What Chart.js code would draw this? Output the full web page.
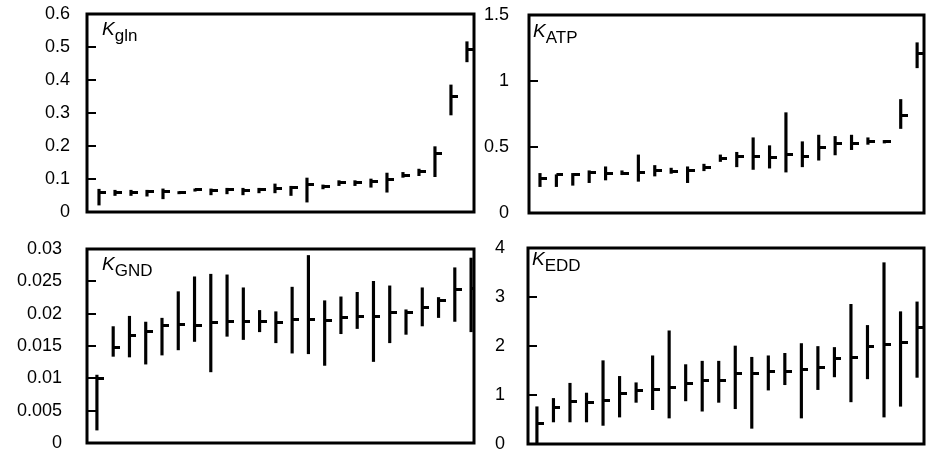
<!DOCTYPE html>
<html lang="en">
  <head>
    <meta charset="UTF-8" />
    <title>K estimates</title>
    <script src="https://cdn.jsdelivr.net/npm/chart.js@4.4.1/dist/chart.umd.min.js"></script>
    <style>
      body { margin: 0; overflow: hidden; background: #fff; }
      #wrap { position: relative; width: 927px; height: 454px; overflow: hidden; }
      canvas { position: absolute; }
      .lbl { position: absolute; font-family: "Liberation Sans", Arial, sans-serif; font-size: 19px; color: #000; white-space: nowrap; }
      .lbl span { position: relative; top: 6px; font-size: 17px; }
    </style>
  </head>
  <body>
    <div id="wrap">
      <canvas id="gln" width="480" height="227" style="left:0;top:0"></canvas>
      <canvas id="atp" width="450" height="227" style="left:480px;top:0"></canvas>
      <canvas id="gnd" width="480" height="227" style="left:0;top:227px"></canvas>
      <canvas id="edd" width="450" height="227" style="left:480px;top:227px"></canvas>
      <div class="lbl" style="left:102px;top:18px"><i>K</i><span>gln</span></div>
      <div class="lbl" style="left:533px;top:20px"><i>K</i><span>ATP</span></div>
      <div class="lbl" style="left:102px;top:253px"><i>K</i><span>GND</span></div>
      <div class="lbl" style="left:532px;top:248px"><i>K</i><span>EDD</span></div>
    </div>

    <script>
      // estimate, lower and upper end of each range, 24 samples per panel
      const glnEst  = [0.058,0.058,0.058,0.062,0.062,0.058,0.067,0.064,0.067,0.064,0.067,0.072,0.074,0.082,0.077,0.088,0.089,0.092,0.097,0.112,0.122,0.178,0.35,0.493];
      const glnLow  = [0.021,0.05,0.05,0.048,0.04,0.055,0.063,0.052,0.055,0.052,0.058,0.058,0.05,0.03,0.07,0.08,0.08,0.075,0.06,0.105,0.11,0.107,0.294,0.455];
      const glnHigh = [0.069,0.066,0.066,0.066,0.07,0.062,0.07,0.07,0.072,0.072,0.072,0.085,0.078,0.103,0.082,0.095,0.095,0.10,0.118,0.12,0.13,0.198,0.385,0.516];
      const glnTicks = [0, 0.1, 0.2, 0.3, 0.4, 0.5, 0.6];

      const atpEst  = [0.265,0.29,0.295,0.305,0.30,0.30,0.305,0.32,0.315,0.325,0.345,0.41,0.43,0.43,0.42,0.44,0.43,0.50,0.53,0.53,0.54,0.54,0.74,1.21];
      const atpLow  = [0.20,0.20,0.21,0.23,0.25,0.29,0.24,0.28,0.30,0.23,0.32,0.39,0.35,0.33,0.34,0.31,0.35,0.40,0.44,0.48,0.52,0.53,0.64,1.10];
      const atpHigh = [0.30,0.29,0.30,0.32,0.35,0.32,0.44,0.36,0.34,0.35,0.37,0.44,0.46,0.57,0.51,0.76,0.54,0.59,0.58,0.59,0.57,0.55,0.86,1.29];
      const atpTicks = [0, 0.5, 1, 1.5];

      const gndEst  = [0.0100,0.0147,0.0167,0.0173,0.0182,0.0183,0.0182,0.0186,0.0188,0.0188,0.0188,0.0187,0.0191,0.0191,0.0190,0.0194,0.0195,0.0195,0.0202,0.0202,0.0210,0.0220,0.0238,0.0239];
      const gndLow  = [0.002,0.0134,0.0133,0.0122,0.0136,0.0144,0.0157,0.0110,0.0165,0.0160,0.0172,0.0155,0.0139,0.0138,0.0120,0.0169,0.0177,0.0126,0.0155,0.0168,0.0181,0.0194,0.0188,0.0172];
      const gndHigh = [0.0105,0.0180,0.0196,0.0187,0.0193,0.0234,0.0257,0.0261,0.0260,0.0240,0.0205,0.0203,0.0241,0.0290,0.0220,0.0226,0.0233,0.0250,0.0243,0.0206,0.0240,0.0225,0.0271,0.0286];
      const gndTicks = [0, 0.005, 0.01, 0.015, 0.02, 0.025, 0.03];

      const eddEst  = [0.41,0.74,0.86,0.84,0.89,1.03,1.10,1.12,1.15,1.23,1.30,1.30,1.43,1.43,1.48,1.48,1.52,1.57,1.74,1.77,1.99,2.04,2.08,2.38];
      const eddLow  = [0.02,0.45,0.45,0.45,0.38,0.55,0.85,0.70,0.53,0.88,0.67,0.85,0.72,0.32,1.10,1.21,0.53,1.11,1.37,0.86,1.33,0.55,0.77,1.36];
      const eddHigh = [0.76,0.93,1.24,1.04,1.70,1.38,1.25,1.80,2.31,1.62,1.69,1.69,2.00,1.77,1.80,1.85,2.05,1.99,1.97,2.85,2.42,3.70,2.70,2.90];
      const eddTicks = [0, 1, 2, 3, 4];

      Chart.defaults.font.family = '"Liberation Sans", Arial, Helvetica, sans-serif';
      Chart.defaults.font.size = 18;
      Chart.defaults.color = '#000';

      // short horizontal mark to the right of the range line
      const mark = document.createElement('canvas');
      mark.width = 14; mark.height = 3;
      const mctx = mark.getContext('2d');
      mctx.fillStyle = '#000';
      mctx.fillRect(7, 0, 7, 3);

      // box around the plot area + inward ticks on the y axis
      const frame = {
        id: 'frame',
        afterDraw(chart) {
          const { ctx, chartArea: a } = chart;
          const y = chart.scales.y;
          ctx.save();
          ctx.strokeStyle = '#000';
          ctx.lineWidth = 2;
          y.ticks.forEach(t => {
            const py = Math.round(y.getPixelForValue(t.value));
            ctx.beginPath();
            ctx.moveTo(a.left, py);
            ctx.lineTo(a.left + 9, py);
            ctx.stroke();
          });
          ctx.lineWidth = 3;
          ctx.strokeRect(a.left, a.top, a.right - a.left, a.bottom - a.top);
          ctx.restore();
        }
      };

      function panel(id, est, low, high, yTicks, p) {
        new Chart(document.getElementById(id), {
          type: 'bar',
          data: {
            datasets: [
              {
                type: 'bar',
                data: est.map((_, i) => ({ x: i, y: [low[i], high[i]] })),
                backgroundColor: '#000',
                barThickness: 2.5,
                grouped: false
              },
              {
                type: 'scatter',
                data: est.map((v, i) => ({ x: i, y: v })),
                pointStyle: mark,
                pointRadius: 5
              }
            ]
          },
          options: {
            responsive: false,
            animation: false,
            events: [],
            layout: { padding: { top: p.top, bottom: p.bottom, right: p.right, left: 0 } },
            plugins: { legend: { display: false }, tooltip: { enabled: false } },
            scales: {
              x: { type: 'linear', display: false, offset: false, min: p.xmin, max: p.xmax },
              y: {
                min: yTicks[0],
                max: yTicks[yTicks.length - 1],
                afterBuildTicks: s => { s.ticks = yTicks.map(v => ({ value: v })); },
                afterFit: s => { s.width = p.axisW; s.paddingTop = 0; s.paddingBottom = 0; },
                grid: { display: false, drawTicks: false },
                border: { display: false },
                ticks: { padding: p.pad, callback: v => String(v) }
              }
            }
          },
          plugins: [frame]
        });
      }

      panel('gln', glnEst, glnLow, glnHigh, glnTicks, { top: 14, bottom: 15, right: 5, axisW: 87, pad: 17, xmin: -0.75, xmax: 23.44 });
      panel('atp', atpEst, atpLow, atpHigh, atpTicks, { top: 15, bottom: 14, right: 3, axisW: 49, pad: 20, xmin: -0.67, xmax: 23.42 });
      panel('gnd', gndEst, gndLow, gndHigh, gndTicks, { top: 22, bottom: 11, right: 5, axisW: 87, pad: 25, xmin: -0.61, xmax: 23.18 });
      panel('edd', eddEst, eddLow, eddHigh, eddTicks, { top: 21, bottom: 10, right: 3, axisW: 48, pad: 23, xmin: -0.54, xmax: 23.42 });
    </script>
  </body>
</html>
